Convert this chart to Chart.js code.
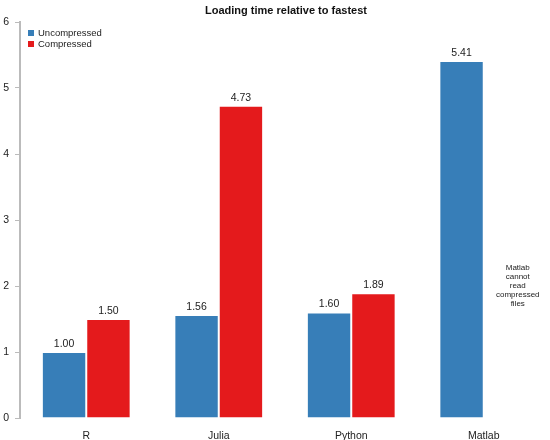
<!DOCTYPE html>
<html>
<head>
<meta charset="utf-8">
<script src="https://cdn.jsdelivr.net/npm/chart.js@4/dist/chart.umd.min.js"></script>
<style>
  body { margin: 0; background: #fff; }
  #wrap { width: 550px; height: 440px; position: relative; }
</style>
</head>
<body>
<div id="wrap"><canvas id="myChart"></canvas></div>
<script>
const categories = ['R', 'Julia', 'Python', 'Matlab'];
const uncompressed = [1.00, 1.56, 1.60, 5.41];
const compressed = [1.50, 4.73, 1.89, null];
const yTicks = [0, 1, 2, 3, 4, 5, 6];
const chartTitle = 'Loading time relative to fastest';
const noteLines = ['Matlab', 'cannot', 'read', 'compressed', 'files'];
const noteValue = 2.0;

const FONT = '"Liberation Sans", Arial, sans-serif';

// title, legend, value labels and matlab note
const extras = {
    id: 'extras',
    afterDraw(chart) {
        const c = chart.ctx;
        const area = chart.chartArea;
        const xs = chart.scales.x;
        const ys = chart.scales.y;
        c.save();

        c.fillStyle = '#111';
        c.font = 'bold 11px ' + FONT;
        c.textAlign = 'center';
        c.textBaseline = 'middle';
        c.fillText(chartTitle, (area.left + area.right) / 2 + 1, 11);

        c.font = '9.5px ' + FONT;
        c.textAlign = 'left';
        chart.data.datasets.forEach((ds, i) => {
            const y = 33 + i * 11;
            c.fillStyle = ds.backgroundColor;
            c.fillRect(28, y - 3, 6, 6);
            c.fillStyle = '#222';
            c.fillText(ds.label, 38, y);
        });

        c.font = '10.5px ' + FONT;
        c.textAlign = 'center';
        c.fillStyle = '#222';
        chart.data.datasets.forEach((ds, i) => {
            chart.getDatasetMeta(i).data.forEach((bar, j) => {
                const v = ds.data[j];
                if (v === null) return;
                c.fillText(v.toFixed(2), bar.x, bar.y - 8);
            });
        });

        // note sits where the missing Matlab compressed bar would be
        const nx = xs.getPixelForValue(3) + 34;
        const ny = ys.getPixelForValue(noteValue);
        c.font = '8px ' + FONT;
        c.fillStyle = '#222';
        noteLines.forEach((t, k) => {
            c.fillText(t, nx, ny - 18 + k * 9);
        });
        c.restore();
    }
};

const ctx = document.getElementById('myChart').getContext('2d');
const myChart = new Chart(ctx, {
    type: 'bar',
    data: {
        labels: categories,
        datasets: [{
            label: 'Uncompressed',
            data: uncompressed,
            backgroundColor: '#377eb8',
            borderColor: 'rgba(255,255,255,0.5)',
            borderWidth: 1
        }, {
            label: 'Compressed',
            data: compressed,
            backgroundColor: '#e41a1c',
            borderColor: 'rgba(255,255,255,0.5)',
            borderWidth: 1
        }]
    },
    options: {
        responsive: true,
        maintainAspectRatio: false,
        animation: false,
        layout: { padding: { top: 22, right: 0, left: 0, bottom: 0 } },
        plugins: {
            legend: { display: false },
            title: { display: false },
            tooltip: { enabled: false }
        },
        datasets: {
            bar: { categoryPercentage: 0.67, barPercentage: 1.0 }
        },
        scales: {
            x: {
                grid: { display: false, drawTicks: false },
                border: { display: false },
                ticks: { color: '#222', font: { family: FONT, size: 10.5 }, padding: 12 },
                afterFit(s) { s.height = 22; }
            },
            y: {
                min: 0,
                max: 6,
                afterBuildTicks(s) { s.ticks = yTicks.map(v => ({ value: v })); },
                grid: { drawOnChartArea: false, tickLength: 5, color: '#bbb', lineWidth: 1 },
                border: { color: '#bbb', width: 2 },
                ticks: { color: '#222', font: { family: FONT, size: 10.5 }, padding: 6 },
                afterFit(s) { s.width = 20; }
            }
        }
    },
    plugins: [extras]
});
</script>
</body>
</html>
